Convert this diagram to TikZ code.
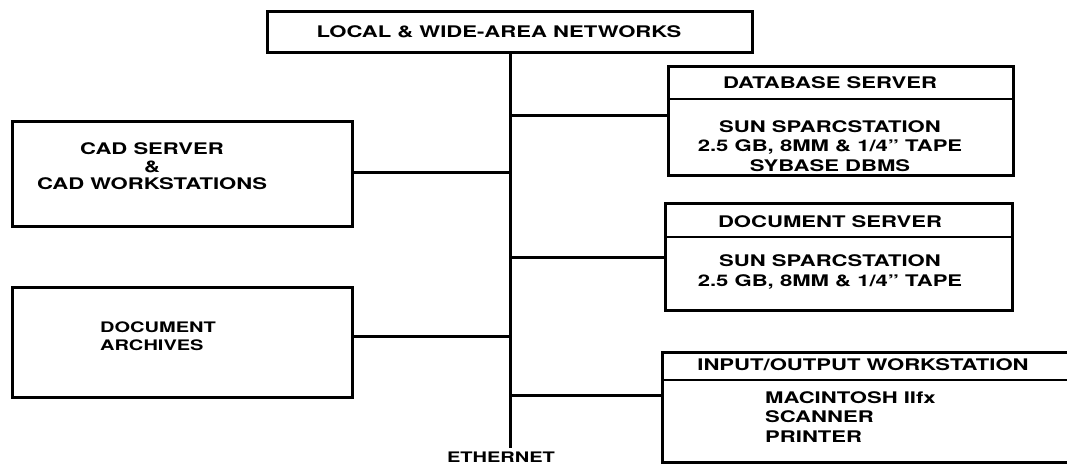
\documentclass[tikz,border=0pt]{standalone}
\usepackage{fontspec}
\setmainfont{TeX Gyre Heros}[BoldFont={* Bold},BoldFeatures={FakeStretch=1.38}]
\begin{document}
\begin{tikzpicture}[x=1pt,y=-1pt,
  box/.style={draw,line width=3pt,line join=miter},
  divider/.style={line width=2.4pt},
  conn/.style={line width=3pt},
  lbl/.style={inner sep=0pt,font=\fontsize{16}{19.5}\selectfont\bfseries},
  sml/.style={inner sep=0pt,font=\fontsize{14.5}{18}\selectfont\bfseries}]
\useasboundingbox (0,0) rectangle (1067,465);
% boxes
\draw[box] (267,12) rectangle (752,53);
\node[lbl] (net) at (499,32) {LOCAL \& WIDE-AREA NETWORKS};
\coordinate (nettop) at (510,53);
\coordinate (ethend) at (510,448);
\node[sml] (eth) at (501,457) {ETHERNET};

\draw[box] (12,122) rectangle (352,226);
\node[lbl,align=center] (cad) at (152,166) {CAD SERVER\\[-1pt]\&\\[-3pt]CAD WORKSTATIONS};

\draw[box] (12,287) rectangle (352,397);
\node[sml,align=left,anchor=west] (arch) at (100,336) {DOCUMENT\\ARCHIVES};

\draw[box] (668,67) rectangle (1013,176);
\draw[divider] (668,99) -- (1013,99);
\node[lbl] (dbh) at (830,83) {DATABASE SERVER};
\node[lbl,align=center] (dbb) at (830,146) {SUN SPARCSTATION\\2.5 GB, 8MM \& 1/4" TAPE\\SYBASE DBMS};

\draw[box] (665,203) rectangle (1012,310);
\draw[divider] (665,237) -- (1012,237);
\node[lbl] (dsh) at (830,222) {DOCUMENT SERVER};
\node[lbl,align=center] (dsb) at (830,272) {SUN SPARCSTATION\\2.5 GB, 8MM \& 1/4" TAPE};

\draw[box] (1080,352) -- (662,352) -- (662,462) -- (1080,462);
\draw[divider] (662,380) -- (1080,380);
\node[lbl] (ioh) at (863,365) {INPUT/OUTPUT WORKSTATION};
\node[lbl,align=left,anchor=north west] (iob) at (765,391) {MACINTOSH IIfx\\SCANNER\\PRINTER};

% ethernet backbone and connectors
\draw[conn] (nettop) -- (ethend);
\draw[conn] (510,116) -- (668,116);
\draw[conn] (352,173) -- (510,173);
\draw[conn] (510,257) -- (665,257);
\draw[conn] (352,336) -- (510,336);
\draw[conn] (510,395) -- (662,395);
\end{tikzpicture}
\end{document}
